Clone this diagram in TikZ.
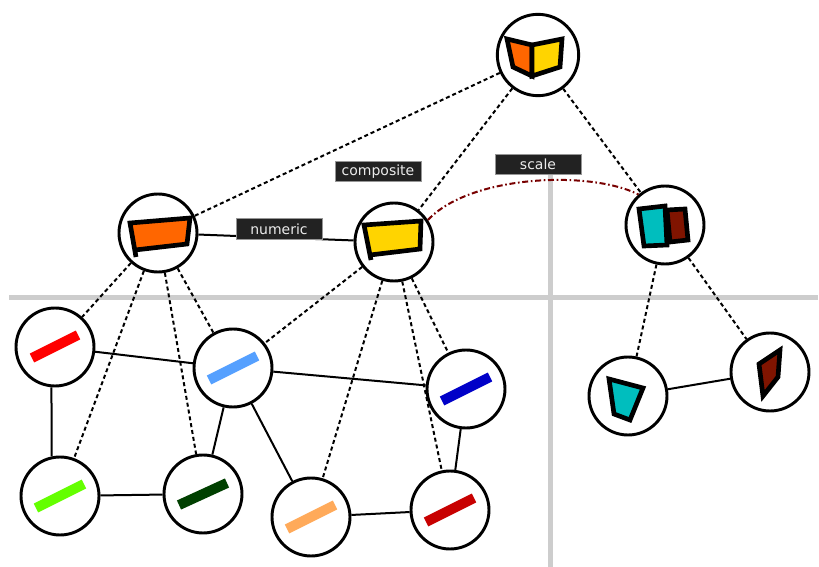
\documentclass[tikz,border=0pt]{standalone}
\usepackage{fontspec}
\setsansfont{DejaVu Sans}
\usetikzlibrary{calc}
\definecolor{guidegray}{RGB}{205,205,205}
\definecolor{tagbg}{RGB}{34,34,34}
\definecolor{tagline}{RGB}{150,150,150}
\definecolor{tagtext}{RGB}{235,235,235}
\definecolor{arcred}{RGB}{120,0,0}
\definecolor{bookorange}{RGB}{255,102,0}
\definecolor{bookyellow}{RGB}{255,212,0}
\definecolor{tealfill}{RGB}{0,190,190}
\definecolor{rustfill}{RGB}{128,20,0}
\definecolor{barred}{RGB}{255,0,0}
\definecolor{barsky}{RGB}{85,160,255}
\definecolor{barnavy}{RGB}{0,0,200}
\definecolor{barlime}{RGB}{100,255,0}
\definecolor{barforest}{RGB}{0,64,0}
\definecolor{barpeach}{RGB}{255,170,90}
\definecolor{barcrimson}{RGB}{200,0,0}
\tikzset{
  net/ball/.style={circle, draw, line width=2.2pt, fill=white, minimum size=58.5pt, inner sep=0pt},
  net/link/.style={line width=1.5pt},
  net/dash/.style={line width=1.5pt, dash pattern=on 3pt off 2.2pt},
  net/arc/.style={line width=1.5pt, draw=arcred, dash pattern=on 4.5pt off 2pt on 1.2pt off 2pt},
  net/tag/.style={fill=tagbg, draw=tagline, line width=0.6pt, text=tagtext, font=\sffamily\fontsize{10.5}{12}\selectfont, minimum width=64.5pt, minimum height=15.5pt, inner sep=0pt},
  net/bar/.style={line width=7.5pt},
  net/icon/.style={draw=black, line width=3.5pt, line join=miter},
  net/guide/.style={line width=3.75pt, draw=guidegray},
}

\begin{document}
\begin{tikzpicture}[x=0.75pt, y=-0.75pt]
  \useasboundingbox (0,0) rectangle (819,567);

  % Guides
  \draw[net/guide] (9,297) -- (818,297);
  \draw[net/guide] (550,170) -- (550,567);

  % Upper level
  \node[net/ball, minimum size=61pt] (top) at (538,55) {};
  \node[net/ball] (left) at (158,233) {};
  \node[net/ball] (mid) at (394,242) {};
  \node[net/ball] (right) at (665,225) {};

  % Lower level
  \node[net/ball] (red) at (55,347) {};
  \node[net/ball] (sky) at (233,368) {};
  \node[net/ball] (navy) at (466,389) {};
  \node[net/ball] (lime) at (60,496) {};
  \node[net/ball] (forest) at (203,494) {};
  \node[net/ball] (peach) at (311,517) {};
  \node[net/ball] (crimson) at (450,510) {};
  \node[net/ball] (teal) at (628,396) {};
  \node[net/ball] (kite) at (770,372) {};

  % Hierarchy (dashed)
  \draw[net/dash] (top) -- (left);
  \draw[net/dash] (top) -- (mid);
  \draw[net/dash] (top) -- (right);
  \draw[net/dash] (left) -- (red);
  \draw[net/dash] (left) -- (lime);
  \draw[net/dash] (left) -- (forest);
  \draw[net/dash] (left) -- (sky);
  \draw[net/dash] (mid) -- (sky);
  \draw[net/dash] (mid) -- (peach);
  \draw[net/dash] (mid) -- (crimson);
  \draw[net/dash] (mid) -- (navy);
  \draw[net/dash] (right) -- (teal);
  \draw[net/dash] (right) -- (kite);

  % Neighbours (solid)
  \draw[net/link] (left) -- (mid);
  \draw[net/link] (red) -- (sky);
  \draw[net/link] (red.-95) -- (lime.102);
  \draw[net/link] (lime) -- (forest);
  \draw[net/link] (forest) -- (sky);
  \draw[net/link] (sky) -- (navy);
  \draw[net/link] (sky) -- (peach);
  \draw[net/link] (peach) -- (crimson);
  \draw[net/link] (navy) -- (crimson);
  \draw[net/link] (teal) -- (kite);

  % Scale link
  \draw[net/arc] (mid.33) .. controls (470,175) and (590,170) .. (right.131);

  % Labels
  \node[net/tag] (numeric) at (279,229) {numeric};
  \node[net/tag] (composite) at (378,171.5) {composite};
  \node[net/tag] (scale) at (538,164.5) {scale};

  % Icons
  \begin{scope}[shift={(top.center)}]
    \filldraw[net/icon, fill=bookorange] (-31,-16) -- (-6,-10) -- (-6,21) -- (-25,12) -- cycle;
    \filldraw[net/icon, fill=bookyellow] (-6,-10) -- (24,-16) -- (22,12) -- (-6,21) -- cycle;
  \end{scope}
  \begin{scope}[shift={(left.center)}]
    \fill[bookorange] (-28,-10) -- (32,-15) -- (29,11) -- (-23,17) -- cycle;
    \draw[net/icon] (-22,24) -- (-28,-10) -- (32,-15) -- (29,11) -- (-23,17);
  \end{scope}
  \begin{scope}[shift={(mid.center)}]
    \fill[bookyellow] (-30,-17) -- (27,-21) -- (26,7) -- (-24,13) -- cycle;
    \draw[net/icon] (-23,18) -- (-30,-17) -- (27,-21) -- (26,7) -- (-24,13);
  \end{scope}
  \begin{scope}[shift={(right.center)}]
    \filldraw[net/icon, fill=rustfill] (2,-15) -- (20,-16) -- (23,15) -- (5,17) -- cycle;
    \filldraw[net/icon, fill=tealfill] (-26,-16) -- (0,-19) -- (2,20) -- (-21,21) -- cycle;
  \end{scope}
  \begin{scope}[shift={(teal.center)}]
    \filldraw[net/icon, fill=tealfill] (-19,-17) -- (15,-8) -- (2,24) -- (-14,18) -- cycle;
  \end{scope}
  \begin{scope}[shift={(kite.center)}]
    \filldraw[net/icon, fill=rustfill] (10,-22) -- (-11,-8) -- (-7,24) -- (8,5) -- cycle;
  \end{scope}

  % Bars
  \draw[net/bar, draw=barred] ($(red)+(-23,11)$) -- ($(red)+(23,-12)$);
  \draw[net/bar, draw=barsky] ($(sky)+(-24,12)$) -- ($(sky)+(24,-12)$);
  \draw[net/bar, draw=barnavy] ($(navy)+(-24,12)$) -- ($(navy)+(24,-12)$);
  \draw[net/bar, draw=barlime] ($(lime)+(-24,12)$) -- ($(lime)+(24,-12)$);
  \draw[net/bar, draw=barforest] ($(forest)+(-24,11)$) -- ($(forest)+(24,-11)$);
  \draw[net/bar, draw=barpeach] ($(peach)+(-24,12)$) -- ($(peach)+(24,-12)$);
  \draw[net/bar, draw=barcrimson] ($(crimson)+(-24,12)$) -- ($(crimson)+(24,-12)$);

\end{tikzpicture}
\end{document}
